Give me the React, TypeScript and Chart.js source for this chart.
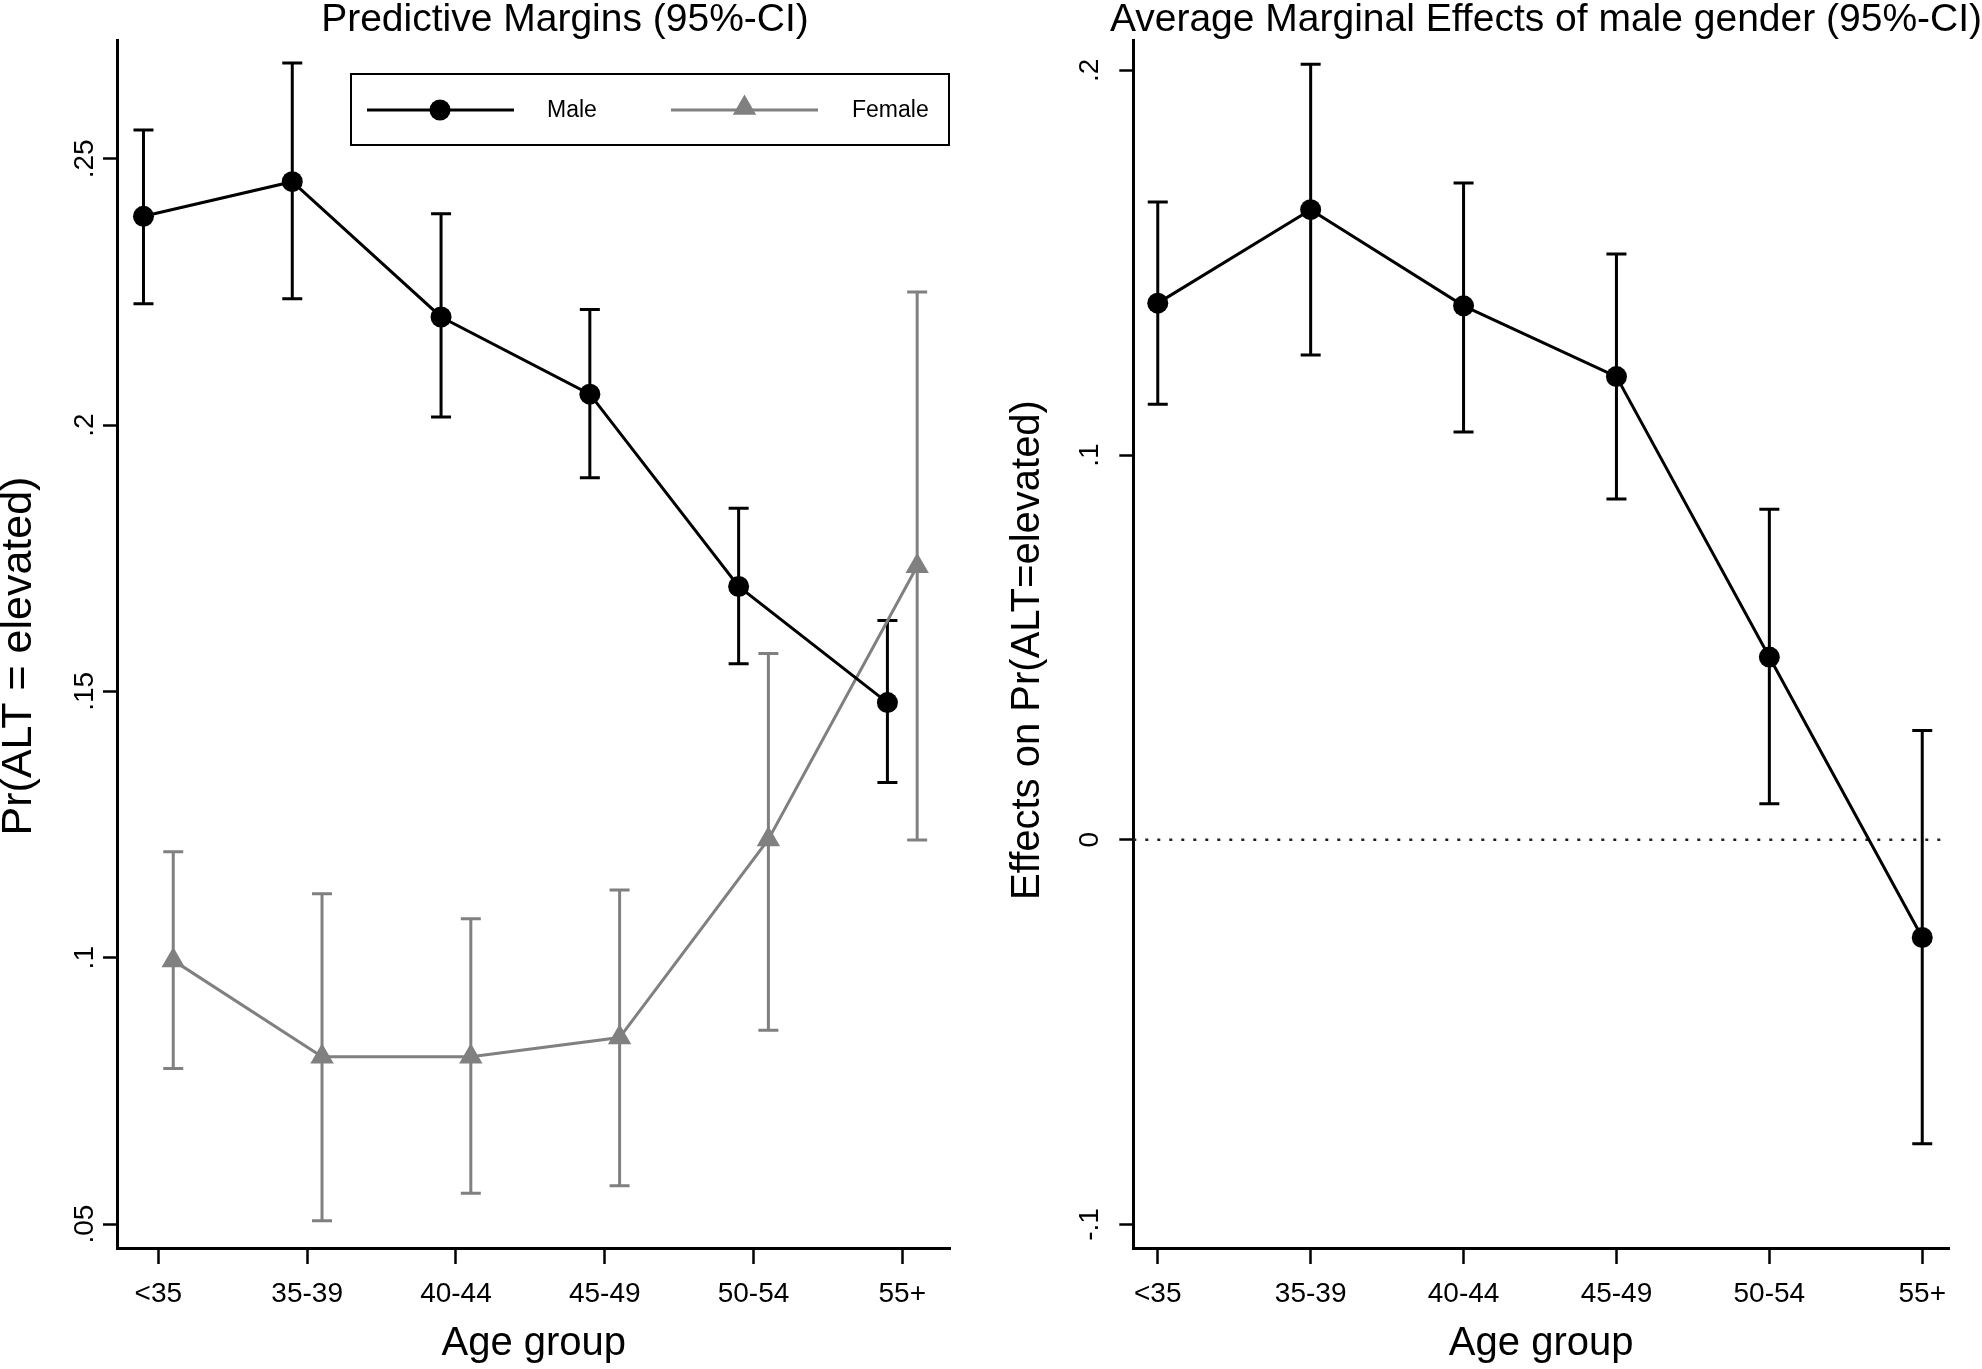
import React, { useEffect, useRef } from "react";
import { Chart, registerables } from "chart.js";

Chart.register(...registerables);

// ---------- data ----------
const AGE_LABELS = ["<35", "35-39", "40-44", "45-49", "50-54", "55+"];

const MALE_MARGIN = [0.2392, 0.2457, 0.2203, 0.2058, 0.1697, 0.1479];
const MALE_LO = [0.2228, 0.2237, 0.2015, 0.1901, 0.1552, 0.1329];
const MALE_HI = [0.2554, 0.268, 0.2397, 0.2217, 0.1844, 0.1633];

const FEMALE_MARGIN = [0.0995, 0.0814, 0.0814, 0.085, 0.1222, 0.1735];
const FEMALE_LO = [0.0792, 0.0506, 0.0558, 0.0572, 0.0864, 0.1221];
const FEMALE_HI = [0.1199, 0.112, 0.1073, 0.1127, 0.1571, 0.225];

const AME = [0.1395, 0.1638, 0.1388, 0.1204, 0.0475, -0.0254];
const AME_LO = [0.1132, 0.126, 0.106, 0.0886, 0.0094, -0.079];
const AME_HI = [0.1658, 0.2016, 0.1707, 0.1523, 0.0859, 0.0284];

const LEFT_Y_TICKS = [0.05, 0.1, 0.15, 0.2, 0.25];
const LEFT_Y_LABELS = [".05", ".1", ".15", ".2", ".25"];
const RIGHT_Y_TICKS = [-0.1, 0, 0.1, 0.2];
const RIGHT_Y_LABELS = ["-.1", "0", ".1", ".2"];

const LEFT_TITLE = "Predictive Margins (95%-CI)";
const RIGHT_TITLE = "Average Marginal Effects of male gender (95%-CI)";
const X_TITLE = "Age group";
const LEFT_Y_TITLE = "Pr(ALT = elevated)";
const RIGHT_Y_TITLE = "Effects on Pr(ALT=elevated)";
const SERIES_NAMES = ["Male", "Female"];

const FONT = "'Liberation Sans', Arial, Helvetica, sans-serif";
const GRAY = "#808080";
const OFFSET = 0.1;

const W = 991;
const H = 1369;

function errorBarPlugin(bars: { lo: number[]; hi: number[]; dx: number; color: string }[]) {
  return {
    id: "errbars",
    beforeDatasetsDraw(chart: any) {
      const ctx = chart.ctx;
      const xs = chart.scales.x;
      const ys = chart.scales.y;
      ctx.save();
      bars.forEach((b) => {
        ctx.strokeStyle = b.color;
        ctx.lineWidth = 3;
        ctx.lineCap = "butt";
        b.lo.forEach((lo, i) => {
          const x = xs.getPixelForValue(i + b.dx);
          const y1 = ys.getPixelForValue(lo);
          const y2 = ys.getPixelForValue(b.hi[i]);
          ctx.beginPath();
          ctx.moveTo(x, y1);
          ctx.lineTo(x, y2);
          ctx.moveTo(x - 10, y1);
          ctx.lineTo(x + 10, y1);
          ctx.moveTo(x - 10, y2);
          ctx.lineTo(x + 10, y2);
          ctx.stroke();
        });
      });
      ctx.restore();
    },
  };
}

function textPlugin(cfg: {
  title: string;
  titleX: number;
  yTitle: string;
  yTitleX: number;
  yTitleY: number;
  yTitleSize: number;
  yTicks: number[];
  yLabels: string[];
  yLabelX: number;
  legend: boolean;
}) {
  return {
    id: "texts",
    afterDraw(chart: any) {
      const ctx = chart.ctx;
      const xs = chart.scales.x;
      const ys = chart.scales.y;
      const area = chart.chartArea;
      ctx.save();
      ctx.fillStyle = "#000";
      // title
      ctx.font = `39px ${FONT}`;
      ctx.textAlign = "center";
      ctx.textBaseline = "alphabetic";
      ctx.fillText(cfg.title, cfg.titleX, 31);
      // x tick labels
      ctx.font = `28px ${FONT}`;
      AGE_LABELS.forEach((l, i) => {
        ctx.fillText(l, xs.getPixelForValue(i), 1302);
      });
      // x title
      ctx.font = `40px ${FONT}`;
      ctx.fillText(X_TITLE, (area.left + area.right) / 2, 1355);
      // y tick labels (rotated)
      ctx.font = `28px ${FONT}`;
      ctx.textBaseline = "middle";
      cfg.yTicks.forEach((v, i) => {
        ctx.save();
        ctx.translate(cfg.yLabelX, ys.getPixelForValue(v));
        ctx.rotate(-Math.PI / 2);
        ctx.fillText(cfg.yLabels[i], 0, 0);
        ctx.restore();
      });
      // y title
      ctx.font = `${cfg.yTitleSize}px ${FONT}`;
      ctx.save();
      ctx.translate(cfg.yTitleX, cfg.yTitleY);
      ctx.rotate(-Math.PI / 2);
      ctx.fillText(cfg.yTitle, 0, 0);
      ctx.restore();

      if (cfg.legend) {
        ctx.strokeStyle = "#000";
        ctx.lineWidth = 2;
        ctx.strokeRect(351, 74, 598, 71);
        const ly = 110;
        ctx.lineWidth = 3;
        ctx.strokeStyle = "#000";
        ctx.beginPath();
        ctx.moveTo(367, ly);
        ctx.lineTo(514, ly);
        ctx.stroke();
        ctx.beginPath();
        ctx.arc(440, ly, 10.5, 0, Math.PI * 2);
        ctx.fill();
        ctx.strokeStyle = GRAY;
        ctx.fillStyle = GRAY;
        ctx.beginPath();
        ctx.moveTo(671, ly);
        ctx.lineTo(818, ly);
        ctx.stroke();
        const r = 13.5;
        const cx = 744.5;
        const cy = ly - 2;
        ctx.beginPath();
        ctx.moveTo(cx, cy - r);
        ctx.lineTo(cx + r * Math.sin((2 * Math.PI) / 3), cy - r * Math.cos((2 * Math.PI) / 3));
        ctx.lineTo(cx + r * Math.sin((4 * Math.PI) / 3), cy - r * Math.cos((4 * Math.PI) / 3));
        ctx.closePath();
        ctx.fill();
        ctx.fillStyle = "#000";
        ctx.font = `23px ${FONT}`;
        ctx.textAlign = "left";
        ctx.textBaseline = "middle";
        ctx.fillText(SERIES_NAMES[0], 547, ly + 1);
        ctx.fillText(SERIES_NAMES[1], 852, ly + 1);
      }
      ctx.restore();
    },
  };
}

function axisScales(xmin: number, xmax: number, ymin: number, ymax: number, yTicks: number[], yWidth: number) {
  return {
    x: {
      type: "linear",
      min: xmin,
      max: xmax,
      afterBuildTicks: (s: any) => {
        s.ticks = AGE_LABELS.map((_, i) => ({ value: i }));
      },
      afterFit: (s: any) => {
        s.height = H - 1248;
      },
      ticks: { display: false },
      grid: {
        drawOnChartArea: false,
        drawTicks: true,
        tickLength: 16,
        tickWidth: 2.5,
        tickColor: "#000",
      },
      border: { display: true, color: "#000", width: 3 },
    },
    y: {
      type: "linear",
      min: ymin,
      max: ymax,
      afterBuildTicks: (s: any) => {
        s.ticks = yTicks.map((v) => ({ value: v }));
      },
      afterFit: (s: any) => {
        s.width = yWidth;
      },
      ticks: { display: false },
      grid: {
        drawOnChartArea: false,
        drawTicks: true,
        tickLength: 14,
        tickWidth: 2.5,
        tickColor: "#000",
      },
      border: { display: true, color: "#000", width: 3 },
    },
  };
}

export default function App() {
  const leftRef = useRef<HTMLCanvasElement | null>(null);
  const rightRef = useRef<HTMLCanvasElement | null>(null);

  useEffect(() => {
    const left = new Chart(leftRef.current as HTMLCanvasElement, {
      type: "line",
      data: {
        datasets: [
          {
            label: SERIES_NAMES[0],
            data: MALE_MARGIN.map((v, i) => ({ x: i - OFFSET, y: v })),
            borderColor: "#000",
            backgroundColor: "#000",
            borderWidth: 3,
            pointRadius: 10.5,
            pointStyle: "circle",
            pointBorderWidth: 0,
            tension: 0,
          },
          {
            label: SERIES_NAMES[1],
            data: FEMALE_MARGIN.map((v, i) => ({ x: i + OFFSET, y: v })),
            borderColor: GRAY,
            backgroundColor: GRAY,
            borderWidth: 3,
            pointRadius: 13.5,
            pointStyle: "triangle",
            pointBorderWidth: 0,
            tension: 0,
          },
        ],
      },
      options: {
        animation: false,
        responsive: false,
        devicePixelRatio: 1,
        layout: { padding: { top: 40, right: W - 950.5, left: 0, bottom: 0 } },
        plugins: { legend: { display: false }, tooltip: { enabled: false }, title: { display: false } },
        scales: axisScales(-0.278, 5.324, 0.0455, 0.2723, LEFT_Y_TICKS, 117) as any,
      },
      plugins: [
        errorBarPlugin([
          { lo: FEMALE_LO, hi: FEMALE_HI, dx: OFFSET, color: GRAY },
          { lo: MALE_LO, hi: MALE_HI, dx: -OFFSET, color: "#000" },
        ]),
        textPlugin({
          title: LEFT_TITLE,
          titleX: 565,
          yTitle: LEFT_Y_TITLE,
          yTitleX: 19,
          yTitleY: 656,
          yTitleSize: 43,
          yTicks: LEFT_Y_TICKS,
          yLabels: LEFT_Y_LABELS,
          yLabelX: 85,
          legend: true,
        }),
      ],
    } as any);

    const right = new Chart(rightRef.current as HTMLCanvasElement, {
      type: "line",
      data: {
        datasets: [
          {
            label: "AME",
            data: AME.map((v, i) => ({ x: i, y: v })),
            borderColor: "#000",
            backgroundColor: "#000",
            borderWidth: 3,
            pointRadius: 10.5,
            pointStyle: "circle",
            pointBorderWidth: 0,
            tension: 0,
          },
          {
            label: "zero",
            data: [
              { x: -0.16, y: 0 },
              { x: 5.175, y: 0 },
            ],
            borderColor: "#222",
            borderWidth: 2.5,
            borderDash: [3, 9],
            borderDashOffset: -12,
            pointRadius: 0,
            tension: 0,
          },
        ],
      },
      options: {
        animation: false,
        responsive: false,
        devicePixelRatio: 1,
        layout: { padding: { top: 40, right: W - 958, left: 0, bottom: 0 } },
        plugins: { legend: { display: false }, tooltip: { enabled: false }, title: { display: false } },
        scales: axisScales(-0.16, 5.175, -0.1061, 0.2079, RIGHT_Y_TICKS, 142.3) as any,
      },
      plugins: [
        errorBarPlugin([{ lo: AME_LO, hi: AME_HI, dx: 0, color: "#000" }]),
        textPlugin({
          title: RIGHT_TITLE,
          titleX: 555,
          yTitle: RIGHT_Y_TITLE,
          yTitleX: 37,
          yTitleY: 650,
          yTitleSize: 40,
          yTicks: RIGHT_Y_TICKS,
          yLabels: RIGHT_Y_LABELS,
          yLabelX: 99,
          legend: false,
        }),
      ],
    } as any);

    return () => {
      left.destroy();
      right.destroy();
    };
  }, []);

  return (
    <div style={{ position: "absolute", left: 0, top: 0, width: 1982, height: H, background: "#fff" }}>
      <canvas ref={leftRef} width={W} height={H} style={{ position: "absolute", left: 0, top: 0, width: W, height: H }} />
      <canvas ref={rightRef} width={W} height={H} style={{ position: "absolute", left: W, top: 0, width: W, height: H }} />
    </div>
  );
}
